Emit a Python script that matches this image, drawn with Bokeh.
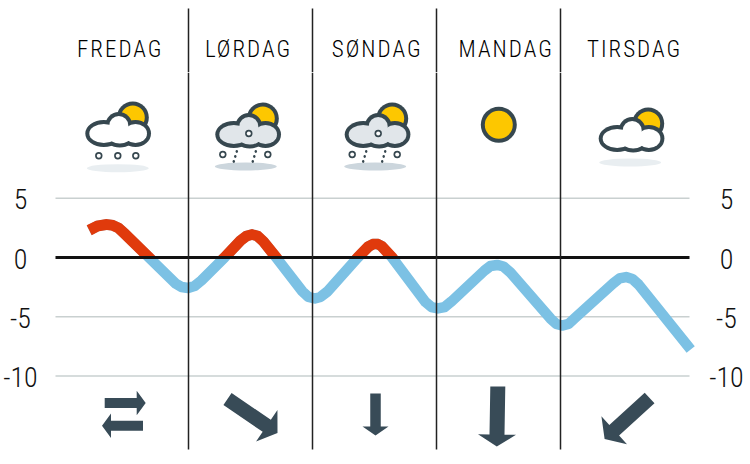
import numpy as np
from bokeh.plotting import figure
from bokeh.layouts import column
from bokeh.models import Range1d
from bokeh.core.properties import value
from bokeh.embed import file_html
from bokeh.resources import INLINE

days = ["FREDAG", "LØRDAG", "SØNDAG", "MANDAG", "TIRSDAG"]
ticks = [5, 0, -5, -10]
hours = [4.78, 6.39, 8.13, 9.29, 10.45, 11.61, 16.35, 21.5, 22.65, 23.94, 25.16, 26.5, 30.97,
         34.06, 35.2, 36.3, 37.35, 38.5, 40.97, 46.06, 47.2, 48.45, 49.55, 50.9, 56.77,
         58.84, 59.8, 60.58, 61.35, 63.4, 69.87, 71.03, 72.26, 73.55, 74.9,
         81.3, 82.45, 83.75, 84.97, 86.3, 94.06, 95.2, 96.3, 97.55, 98.9,
         106.2, 107.4, 108.7, 109.9, 111.1, 121.2]
temps = [2.30, 2.66, 2.78, 2.72, 2.49, 2.03, 0, -2.19, -2.49, -2.57, -2.41, -1.94, 0,
         1.43, 1.81, 1.94, 1.81, 1.35, 0, -2.87, -3.33, -3.46, -3.33, -2.87, 0,
         0.93, 1.14, 1.14, 0.97, 0, -3.76, -4.18, -4.30, -4.18, -3.71,
         -1.10, -0.72, -0.63, -0.76, -1.27, -5.15, -5.61, -5.74, -5.61, -5.06,
         -2.19, -1.77, -1.65, -1.81, -2.28, -7.76]
day_bounds = [24, 48, 72, 96]
wind_dir = [(50, 34), (0, 42), (-1, 60), (-45, 41)]

W, H, HEAD = 750, 464, 72
XS, YS = 124 / 24, 11.85   # px per hour, px per degree
X0, Y0 = 64, 257           # page px of hour 0, degree 0
hx = lambda px: (np.asarray(px, float) - X0) / XS
ty = lambda py: (Y0 - np.asarray(py, float)) / YS
FONT = "Roboto Condensed Light"
SPACING = 2.0

head = figure(width=W, height=HEAD, output_backend="svg", toolbar_location=None,
              x_range=Range1d(float(hx(0)), float(hx(W))),
              y_range=Range1d(float(ty(HEAD)), float(ty(0))),
              min_border=0, outline_line_color=None, styles={"letter-spacing": f"{SPACING}px"}, margin=0)
p = figure(width=W, height=H - HEAD, output_backend="svg", toolbar_location=None,
           x_range=head.x_range,
           y_range=Range1d(float(ty(H)), float(ty(HEAD))),
           min_border=0, outline_line_color=None, margin=0)
for f in (head, p):
    f.axis.visible = False
    f.grid.visible = False

INK = "#36474f"
SUN = "#fdc700"
LINEW = 10.5

# day names and separators in the header
lab_x = [118.7, 247, 375.7, 504.7, 633]
lab_x = [x - (len(d) - 1) * SPACING / 2 for x, d in zip(lab_x, days)]
head.text(hx(lab_x), [float(ty(49))] * 5, text=days, text_font=value(FONT), text_font_size="23px",
          text_align="center", text_baseline="alphabetic", text_color="#000000")
head.segment(day_bounds, [float(ty(HEAD))] * 4, day_bounds, [float(ty(8))] * 4, line_color="#222222", line_width=1.5)

# grid
gx0, gx1 = float(hx(55)), float(hx(689))
grid = [t for t in ticks if t != 0]
p.segment([gx0] * len(grid), grid, [gx1] * len(grid), grid, line_color="#c9d0d0", line_width=1.5)

# temperature: blue full line, red ribbon clipped to >= 0
p.line(hours, temps, line_color="#7cc1e4", line_width=LINEW, line_join="round", line_cap="butt")

px = np.array(hours) * XS
py = -np.array(temps) * YS
tx = np.gradient(px); ty_ = np.gradient(py)
n = np.hypot(tx, ty_)
nx, ny = -ty_ / n, tx / n
hw = LINEW / 2 + 0.25
poly = list(zip(px + nx * hw, py + ny * hw)) + list(zip(px - nx * hw, py - ny * hw))[::-1]
clipped = []
for i, (x1, y1) in enumerate(poly):
    x2, y2 = poly[(i + 1) % len(poly)]
    if y1 <= 0:
        clipped.append((x1, y1))
    if (y1 <= 0) != (y2 <= 0):
        f = y1 / (y1 - y2)
        clipped.append((x1 + f * (x2 - x1), 0.0))
p.patch([c[0] / XS for c in clipped], [-c[1] / YS for c in clipped], fill_color="#e03a0c", line_color=None)

# zero line and day separators
p.segment([gx0], [0], [gx1], [0], line_color="#111111", line_width=3)
p.segment(day_bounds, [float(ty(449))] * 4, day_bounds, [float(ty(HEAD))] * 4, line_color="#222222", line_width=1.5)

for cx in (20, 726):
    p.text([float(hx(cx))] * 4, ticks, text=[str(t) for t in ticks], text_font=value(FONT),
           text_font_size="28px", text_align="center", text_baseline="alphabetic", y_offset=1, text_color="#111111")


def ell(cx, cy, w, h, color):
    p.ellipse([float(hx(cx))], [float(ty(cy))], width=w, height=h, width_units="screen",
              height_units="screen", fill_color=color, line_color=None)


def cloud(cx, cy, fill, sundx=15, sundy=-13):
    ell(cx + sundx, cy + sundy, 32, 32, INK)
    ell(cx + sundx, cy + sundy, 24, 24, SUN)
    lobes = [(-14, 3, 37, 27), (1, -5, 27, 27), (17.7, 3, 31, 27), (2, 6, 30, 22)]
    for dx, dy, w, h in lobes:
        ell(cx + dx, cy + dy, w, h, INK)
    for dx, dy, w, h in lobes:
        ell(cx + dx, cy + dy, w - 8, h - 8, fill)


def ring(cx, cy, r=3.7):
    ell(cx, cy, 2 * r, 2 * r, INK)
    ell(cx, cy, 2 * r - 3.4, 2 * r - 3.4, "white")


# Fredag
ell(117.3, 167.7, 62, 8, "#e9eef1")
cloud(117.3, 130, "white")
for dx in (-19, 0, 18):
    ring(117.3 + dx, 155.3)
# Lørdag, Søndag
for cx in (247.3, 376.7):
    ell(cx - 2, 166, 62, 8, "#ccd6dd")
    cloud(cx, 131, "#e1e6ea")
    ring(cx + 1, 133)
    ring(cx - 25, 154)
    ring(cx + 20, 154)
    for bx in (-11, 8):
        for k in range(3):
            ell(cx + bx - 1.5 * k, 151 + 5 * k, 2.4, 2.8, INK)
# Mandag
ell(498.3, 124.3, 36, 36, INK)
ell(498.3, 124.3, 28, 28, SUN)
# Tirsdag
ell(629.7, 162, 62, 8, "#e9eef1")
cloud(630.7, 135, "white", 17, -12)


def arrow(cx, cy, dx, dy, sw=14.5, hw=38, hl=13):
    L = np.hypot(dx, dy)
    ux, uy = dx / L, dy / L
    vx, vy = -uy, ux
    pts = [(-L / 2, sw / 2), (L / 2 - hl, sw / 2), (L / 2 - hl, hw / 2), (L / 2, 0),
           (L / 2 - hl, -hw / 2), (L / 2 - hl, -sw / 2), (-L / 2, -sw / 2)]
    xs = [float(hx(cx + a * ux + b * vx)) for a, b in pts]
    ys = [float(ty(cy + a * uy + b * vy)) for a, b in pts]
    p.patch(xs, ys, fill_color="#384b57", line_color=None)


# Fredag double arrow
arrow(124.7, 402.5, 41, 0, sw=10, hw=24.5, hl=9)
arrow(122, 425.3, -41, 0, sw=10, hw=24.5, hl=9)
centers = [(252, 415.6), (375, 414), (496.8, 416), (626.6, 418)]
scale = [(14.5, 38, 13), (10.5, 26, 9), (15, 38, 12), (14.5, 38, 13)]
for (c, d, s) in zip(centers, wind_dir, scale):
    arrow(c[0], c[1], d[0], d[1], *s)

open("out.html", "w").write(file_html(column(head, p, spacing=0), INLINE))
